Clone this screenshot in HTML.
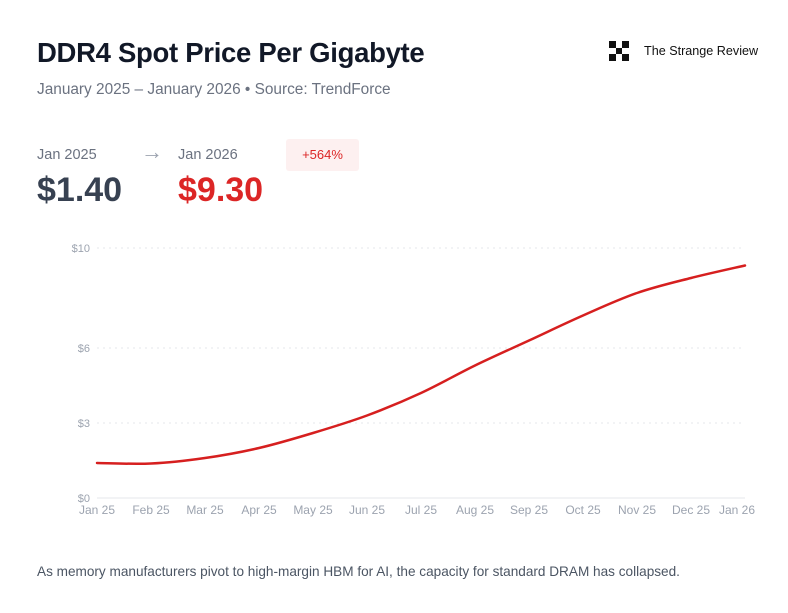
<!DOCTYPE html>
<html><head><meta charset="utf-8"><style>
body{margin:0;width:788px;height:613px;background:#fff;font-family:"Liberation Sans",sans-serif;position:relative;overflow:hidden}
.a{position:absolute;white-space:nowrap}
</style></head><body>
<div class="a" style="left:37px;top:37px;font-size:27.5px;font-weight:bold;color:#111827;letter-spacing:-0.3px">DDR4 Spot Price Per Gigabyte</div>
<div class="a" style="left:37px;top:81px;font-size:15.4px;color:#6b7280">January 2025 – January 2026 • Source: TrendForce</div>
<div class="a" style="left:609px;top:41px;width:20px;height:20px">
<svg width="20" height="20"><g fill="#111"><rect x="0" y="0" width="7" height="7"/><rect x="13" y="0" width="7" height="7"/><rect x="7" y="7" width="6" height="6"/><rect x="0" y="13" width="7" height="7"/><rect x="13" y="13" width="7" height="7"/></g></svg></div>
<div class="a" style="left:644px;top:44px;font-size:12.6px;color:#111">The Strange Review</div>
<div class="a" style="left:37px;top:147px;font-size:14.5px;color:#6b7280">Jan 2025</div>
<div class="a" style="left:141px;top:139px;font-size:22px;color:#9ca3af">→</div>
<div class="a" style="left:178px;top:147px;font-size:14.5px;color:#6b7280">Jan 2026</div>
<div class="a" style="left:286px;top:139px;width:73px;height:32px;background:#fdf0f0;border-radius:3px;color:#dc2626;font-size:13px;line-height:32px;text-align:center">+564%</div>
<div class="a" style="left:37px;top:171px;font-size:34px;font-weight:bold;color:#374151">$1.40</div>
<div class="a" style="left:178px;top:171px;font-size:34px;font-weight:bold;color:#dc2626">$9.30</div>
<svg id="chart" class="a" style="left:0;top:0" width="788" height="613"></svg>
<div class="a" style="left:37px;top:564px;font-size:13.6px;color:#4b5563">As memory manufacturers pivot to high-margin HBM for AI, the capacity for standard DRAM has collapsed.</div>
<script>
const months=["Jan 25","Feb 25","Mar 25","Apr 25","May 25","Jun 25","Jul 25","Aug 25","Sep 25","Oct 25","Nov 25","Dec 25","Jan 26"];
const prices=[1.40,1.38,1.6,2.0,2.6,3.3,4.2,5.3,6.3,7.3,8.2,8.8,9.3];
const yTicks=[0,3,6,10];
const yTickLabels=["$0","$3","$6","$10"];
const svg=document.getElementById('chart');
const NS='http://www.w3.org/2000/svg';
const x0=97,x1=745,y0=498,y1=248,vmax=10;
const X=i=>x0+i*(x1-x0)/(months.length-1);
const Y=v=>y0-v*(y0-y1)/vmax;
function mk(t,at){const e=document.createElementNS(NS,t);for(const k in at)e.setAttribute(k,at[k]);svg.appendChild(e);return e;}
yTicks.forEach((v,i)=>{
 if(v>0){const g=mk('line',{x1:x0,x2:x1,y1:Y(v),y2:Y(v),stroke:'#e5e7eb','stroke-dasharray':'2 4'});
 
 }
 const t=mk('text',{x:90,y:Y(v)+4,'text-anchor':'end','font-size':11,fill:'#9ca3af','font-family':'Liberation Sans'});
 t.textContent=yTickLabels[i];
 
 
});
const base=mk('line',{x1:x0,x2:x1,y1:y0,y2:y0,stroke:'#e5e7eb'});


months.forEach((m,i)=>{
 const last=i===months.length-1;
 const t=mk('text',{x:last?X(i)+10:X(i),y:514,'text-anchor':last?'end':'middle','font-size':12,fill:'#9ca3af','font-family':'Liberation Sans'});
 t.textContent=m;
 
 
});
const pts=prices.map((v,i)=>[X(i),Y(v)]);
let d='M'+pts[0][0]+','+pts[0][1];
for(let i=0;i<pts.length-1;i++){
 const p0=pts[Math.max(0,i-1)],p1=pts[i],p2=pts[i+1],p3=pts[Math.min(pts.length-1,i+2)];
 const c1=[p1[0]+(p2[0]-p0[0])/6,p1[1]+(p2[1]-p0[1])/6];
 const c2=[p2[0]-(p3[0]-p1[0])/6,p2[1]-(p3[1]-p1[1])/6];
 d+=` C${c1[0]},${c1[1]} ${c2[0]},${c2[1]} ${p2[0]},${p2[1]}`;
}
const line=mk('path',{d:d,fill:'none',stroke:'#d61f1f','stroke-width':2.5,'stroke-linecap':'round'});


</script>
</body></html>
